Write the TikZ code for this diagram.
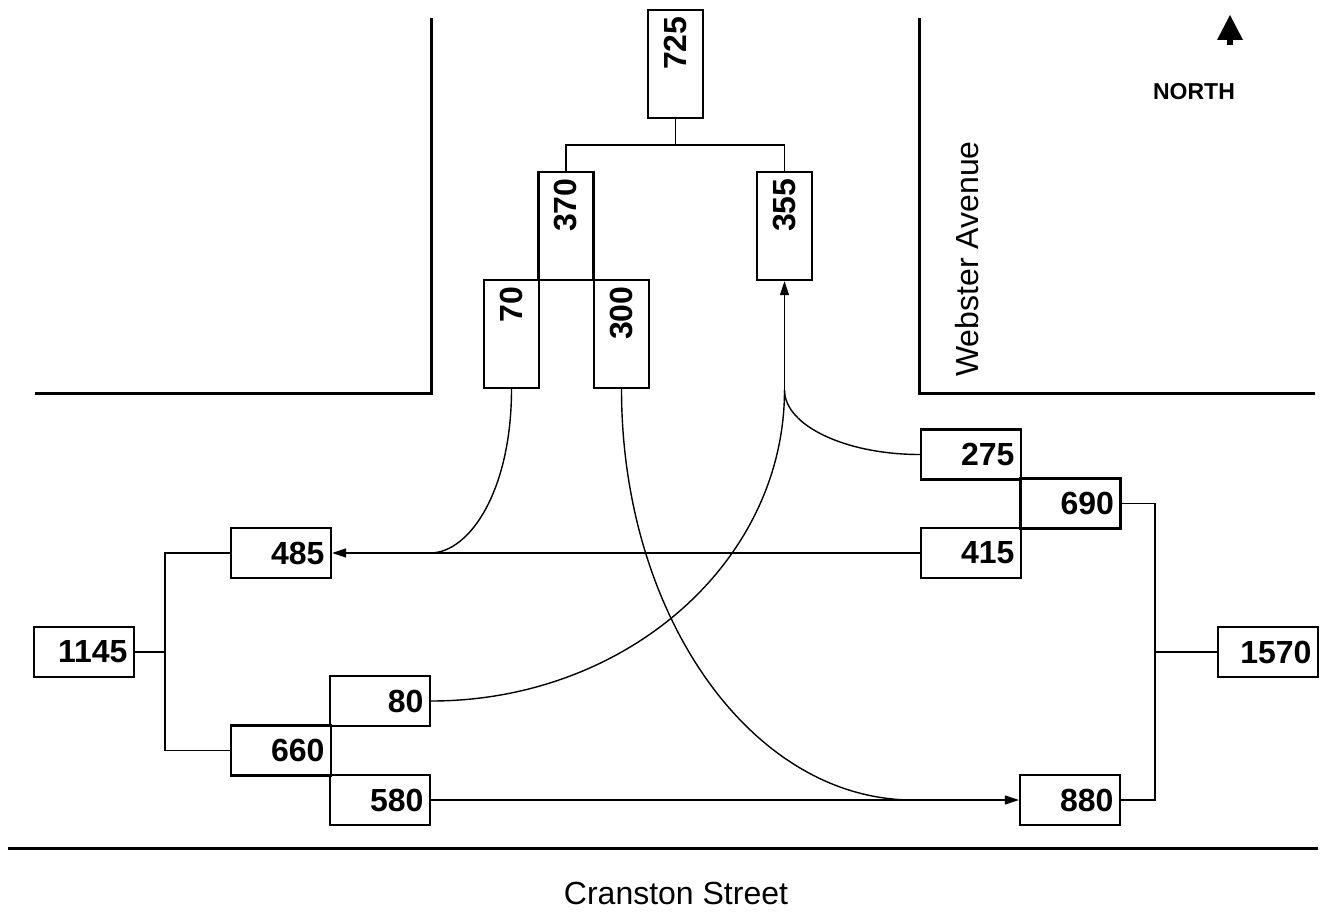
\documentclass[tikz,border=0pt]{standalone}
\usepackage{fontspec}
\setmainfont{Liberation Sans}
\usetikzlibrary{arrows.meta}

\begin{document}
\begin{tikzpicture}[x=1pt,y=-1pt,
  road/.style={line width=3pt},
  hbox/.style={draw, rectangle, line width=2.3pt, text width=87pt, inner xsep=6.5pt, align=right, minimum height=50pt, font=\bfseries\fontsize{32}{32}\selectfont},
  vbox/.style={hbox, text width=95pt, minimum height=55pt, rotate=90},
  link/.style={line width=1.4pt},
  arr/.style={link, -{Triangle[length=14pt,width=9pt]}}]
\useasboundingbox (0,0) rectangle (1325,915);

% streets
\draw[road] (431,18) -- (431,393) -- (35,393);
\draw[road] (919,18) -- (919,393) -- (1315,393);
\draw[road] (8,848) -- (1318,848);
\node[rotate=90, font=\fontsize{32}{32}\selectfont] (webster) at (967,259) {Webster Avenue};
\node[font=\fontsize{32}{32}\selectfont] (cranston) at (676,893) {Cranston Street};

% north sign
\fill (1230,15) -- (1243,40) -- (1217,40) -- cycle;
\fill (1227,40) rectangle (1233,45);
\node[font=\bfseries\fontsize{23}{23}\selectfont] (north) at (1194,92) {NORTH};

% counts
\node[vbox] (b725) at (675.5,64) {725};
\node[vbox] (b370) at (566,226) {370};
\node[vbox] (b355) at (784.5,226) {355};
\node[vbox] (b70) at (511.5,334) {70};
\node[vbox] (b300) at (621.5,334) {300};
\node[hbox] (b275) at (971,454.5) {275};
\node[hbox] (b690) at (1070.5,503.5) {690};
\node[hbox] (b415) at (971,553) {415};
\node[hbox] (b485) at (281,553) {485};
\node[hbox] (b1145) at (84,652) {1145};
\node[hbox] (b80) at (380,701) {80};
\node[hbox] (b660) at (281,750.5) {660};
\node[hbox] (b580) at (380,800) {580};
\node[hbox] (b880) at (1070,800) {880};
\node[hbox] (b1570) at (1268,652) {1570};

% sums
\coordinate (split) at (675.5,145);
\coordinate (lbus) at (165,652);
\coordinate (rbus) at (1155,652);
\draw[link] (b725.west) -- (split);
\draw[link] (b370.east) |- (split) -| (b355.east);
\draw[link] (b485.west) -| (lbus) -- (b1145.east);
\draw[link] (b660.west) -| (lbus);
\draw[link] (b690.east) -| (rbus) -- (b1570.west);
\draw[link] (b880.east) -| (rbus);

% turning flows
\coordinate (j70) at (430,553);
\coordinate (j300) at (913,800);
\coordinate (j355) at (784.5,390);
\draw[arr] (b415.west) -- (b485.east);
\draw[link] (b70.west) .. controls (511.5,490) and (470,553) .. (j70);
\draw[arr] (b580.east) -- (b880.west);
\draw[link] (b300.west) .. controls (621.5,616) and (752,800) .. (j300);
\draw[arr] (j355) -- (b355.west);
\draw[link] (b80.east) .. controls (626,701) and (784.5,562) .. (j355);
\draw[link] (b275.west) .. controls (845.6,454.5) and (784.5,425.6) .. (j355);
\end{tikzpicture}
\end{document}
